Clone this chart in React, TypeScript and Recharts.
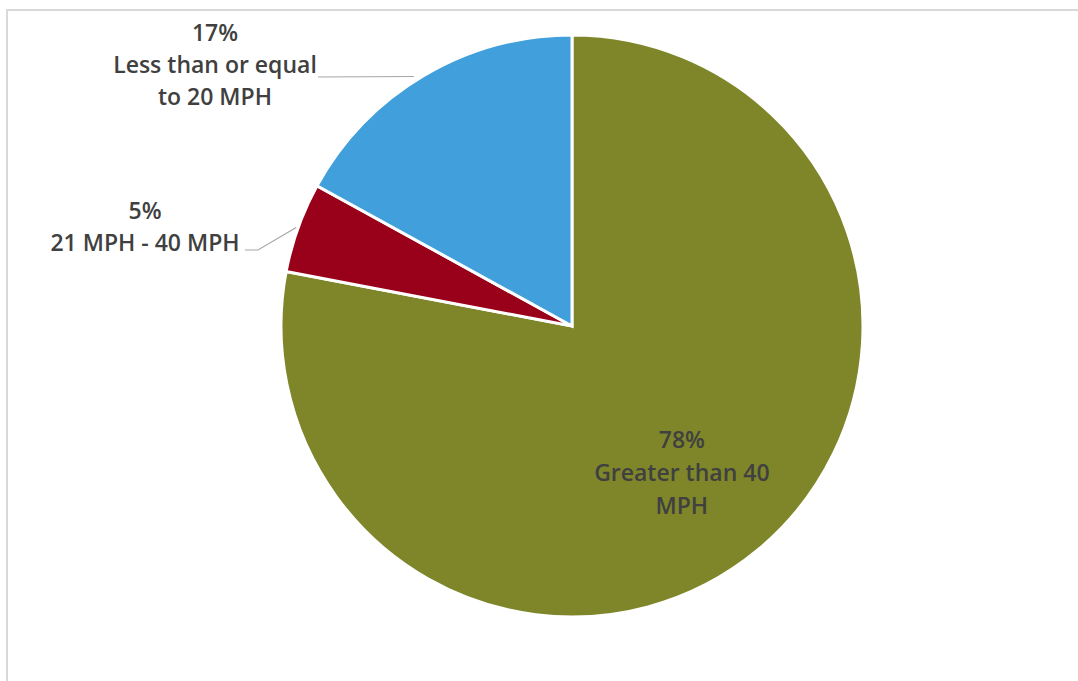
import React from 'react';
import { PieChart, Pie, Cell } from 'recharts';

const categories = ['Greater than 40 MPH', '21 MPH - 40 MPH', 'Less than or equal to 20 MPH'];
const shares = [78, 5, 17];
const labelLines = [
  ['78%', 'Greater than 40', 'MPH'],
  ['5%', '21 MPH - 40 MPH'],
  ['17%', 'Less than or equal', 'to 20 MPH'],
];
const colors = ['#7E8629', '#99001A', '#41A0DC'];

const data = categories.map((name, i) => ({ name, value: shares[i] }));

const RAD = Math.PI / 180;
const TEXT = '#404040';
const LINE = '#A6A6A6';
const FONT = '"Open Sans", "Noto Sans", sans-serif';

const renderLabel = (props: any) => {
  const { cx, cy, midAngle, outerRadius, index } = props;
  const lines = labelLines[index];
  const edgeX = cx + outerRadius * Math.cos(-midAngle * RAD);
  const edgeY = cy + outerRadius * Math.sin(-midAngle * RAD);

  const textStyle = { fontFamily: FONT, fontSize: 23, fontWeight: 600, fill: TEXT };

  if (index === 0) {
    // inside label
    const r = outerRadius * 0.63;
    const x = cx + r * Math.cos(-midAngle * RAD) - 7;
    const y = cy + r * Math.sin(-midAngle * RAD) + 5;
    return (
      <g>
        {lines.map((t, i) => (
          <text key={i} x={x} y={y + (i - 1) * 33} textAnchor="middle" dominantBaseline="central" style={textStyle}>
            {t}
          </text>
        ))}
      </g>
    );
  }

  if (index === 1) {
    const tx = cx - 427;
    const ty = cy - 116;
    return (
      <g>
        {lines.map((t, i) => (
          <text key={i} x={tx} y={ty + i * 32} textAnchor="middle" dominantBaseline="central" style={textStyle}>
            {t}
          </text>
        ))}
        <polyline
          points={`${cx - 327},${cy - 76} ${cx - 314},${cy - 76} ${edgeX - 2},${edgeY}`}
          fill="none"
          stroke={LINE}
          strokeWidth={1.2}
        />
      </g>
    );
  }

  const tx = cx - 357;
  const ty = cy - 294;
  return (
    <g>
      {lines.map((t, i) => (
        <text key={i} x={tx} y={ty + i * 32} textAnchor="middle" dominantBaseline="central" style={textStyle}>
          {t}
        </text>
      ))}
      <polyline
        points={`${cx - 254},${cy - 249} ${edgeX - 10},${edgeY + 1}`}
        fill="none"
        stroke={LINE}
        strokeWidth={1.2}
      />
    </g>
  );
};

const App: React.FC = () => {
  return (
    <>
      <style>{'body{margin:0;overflow:hidden;background:#fff}'}</style>
      <div
        style={{
          position: 'absolute',
          left: 6,
          top: 9,
          width: 1100,
          height: 700,
          border: '2px solid #D9D9D9',
          background: '#fff',
        }}
      >
        <PieChart width={1090} height={690} margin={{ top: 0, right: 0, bottom: 0, left: 0 }}>
          <Pie
            data={data}
            dataKey="value"
            nameKey="name"
            cx={564}
            cy={315}
            outerRadius={291}
            startAngle={90}
            endAngle={-270}
            stroke="#FFFFFF"
            strokeWidth={3}
            label={renderLabel}
            labelLine={false}
            isAnimationActive={false}
          >
            {data.map((d, i) => (
              <Cell key={d.name} fill={colors[i]} />
            ))}
          </Pie>
        </PieChart>
      </div>
    </>
  );
};

export default App;
